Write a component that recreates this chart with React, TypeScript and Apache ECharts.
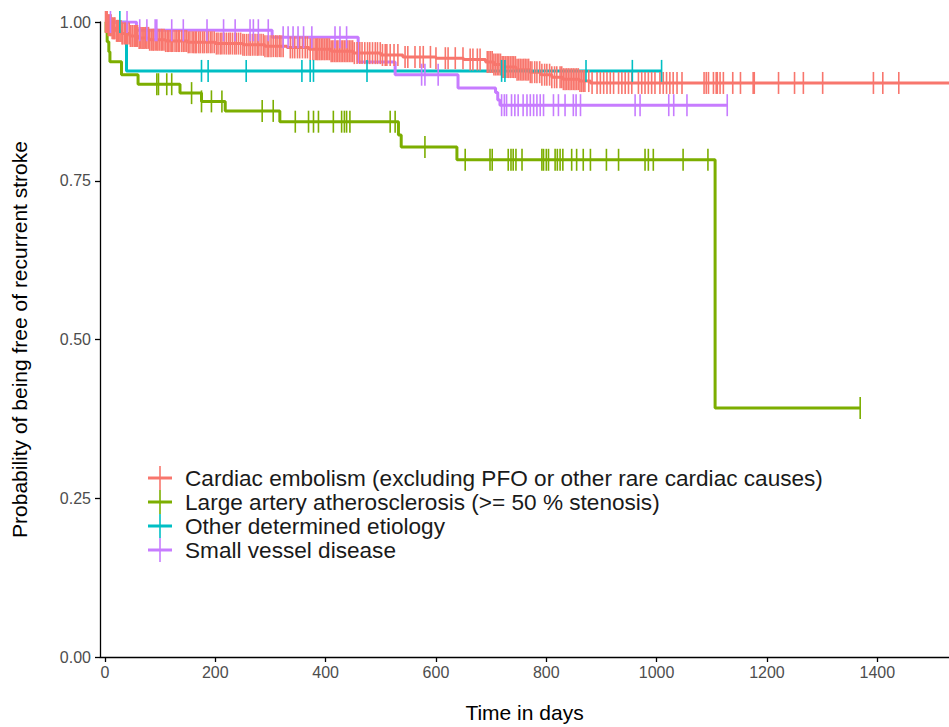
import React, { useEffect, useRef } from "react";
import * as echarts from "echarts";

const seriesNames = [
  "Cardiac embolism (excluding PFO or other rare cardiac causes)",
  "Large artery atherosclerosis (>= 50 % stenosis)",
  "Other determined etiology",
  "Small vessel disease",
];
const seriesColors = ["#F8766D", "#7CAE00", "#00BFC4", "#C77CFF"];

const xTicks = [0, 200, 400, 600, 800, 1000, 1200, 1400];
const yTicks = [0, 0.25, 0.5, 0.75, 1];

// Cardiac embolism
const redTimes = [0, 5, 12, 20, 30, 45, 60, 80, 110, 150, 200, 250, 290, 330, 370, 410, 450, 500, 540, 600, 650, 690, 705, 720, 745, 770, 790, 810, 830, 860, 880, 1530];
const redSurv = [1, 0.995, 0.99, 0.986, 0.982, 0.978, 0.975, 0.972, 0.97, 0.968, 0.966, 0.964, 0.962, 0.96, 0.957, 0.954, 0.951, 0.948, 0.945, 0.943, 0.941, 0.937, 0.933, 0.929, 0.925, 0.921, 0.917, 0.913, 0.91, 0.907, 0.904, 0.904];
const redCensor = [
  1, 3, 4, 6, 8, 10, 11, 13, 15, 17, 18, 21, 23, 24, 27, 29, 31, 32, 35, 37, 39, 41, 44, 46, 47, 50, 53, 55, 57, 59,
  62, 64, 67, 69, 71, 74, 76, 79, 81, 84, 87, 88, 91, 94, 96, 99, 102, 104, 107, 110, 113, 115, 118, 121, 123, 127,
  130, 133, 135, 139, 142, 145, 148, 151, 154, 158, 161, 164, 166, 170, 173, 177, 180, 184, 187, 191, 194, 198, 202,
  205, 209, 212, 216, 220, 224, 227, 231, 235, 238, 242, 246, 250, 253, 257, 261, 264, 268, 272, 276, 279, 283, 287,
  290, 294, 297, 301, 305, 309, 312, 316, 319, 323, 336, 340, 344, 349, 353, 358, 363, 367, 372, 377, 381, 384, 386,
  389, 392, 395, 398, 401, 404, 407, 410, 413, 416, 419, 422, 425, 428, 431, 434, 437, 440, 443, 446, 449, 452, 457,
  462, 466, 471, 476, 480, 485, 490, 494, 499, 503, 508, 511, 517, 524, 531, 544, 549, 562, 571, 577, 590, 600, 617,
  622, 635, 649, 662, 667, 675, 680, 693, 696, 699, 702, 705, 708, 711, 714, 717, 720, 723, 726, 729, 732, 735, 738,
  741, 744, 747, 750, 753, 756, 759, 762, 765, 768, 771, 774, 779, 783, 788, 792, 797, 801, 806, 810, 815, 819, 825,
  828, 831, 834, 837, 840, 843, 846, 849, 852, 855, 858, 861, 864, 867, 870, 877, 883, 892, 898, 904, 910, 916, 922,
  931, 937, 943, 949, 955, 967, 973, 979, 985, 991, 997, 1006, 1012, 1018, 1024, 1030, 1037, 1046, 1086, 1090, 1094,
  1103, 1108, 1110, 1115, 1121, 1138, 1152, 1175, 1177, 1221, 1250, 1266, 1301, 1393, 1410, 1439,
];

// Large artery atherosclerosis
const greenTimes = [0, 2, 4, 7, 9, 30, 60, 136, 175, 218, 317, 532, 537, 638, 1106, 1369];
const greenSurv = [1, 0.984, 0.969, 0.953, 0.9375, 0.917, 0.902, 0.888, 0.875, 0.86, 0.843, 0.822, 0.803, 0.783, 0.392, 0.392];
const greenCensor = [
  94, 97, 112, 121, 157, 175, 193, 212, 285, 305, 345, 369, 378, 387, 414, 429, 434, 438, 444, 517, 526, 580, 653,
  698, 702, 731, 736, 740, 745, 756, 792, 795, 800, 804, 816, 820, 825, 830, 846, 855, 867, 880, 909, 931, 979, 985,
  994, 1048, 1093, 1369,
];

// Other determined etiology
const cyanTimes = [0, 39, 1009];
const cyanSurv = [1, 0.923, 0.923];
const cyanCensor = [27, 175, 187, 256, 357, 372, 378, 475, 719, 725, 872, 956, 1009];

// Small vessel disease
const purpleTimes = [0, 57, 303, 459, 526, 640, 708, 712, 716, 1128];
const purpleSurv = [1, 0.987, 0.976, 0.937, 0.917, 0.896, 0.889, 0.877, 0.869, 0.869];
const purpleCensor = [
  10, 40, 63, 76, 91, 94, 121, 142, 185, 215, 236, 263, 269, 278, 296, 323, 332, 341, 350, 360, 375, 417, 426, 438,
  574, 580, 604, 719, 724, 728, 737, 743, 749, 758, 765, 771, 777, 783, 789, 795, 813, 822, 834, 849, 854, 862, 961,
  970, 1022, 1031, 1055, 1128,
];

const curves = [
  { times: redTimes, surv: redSurv, censor: redCensor },
  { times: greenTimes, surv: greenSurv, censor: greenCensor },
  { times: cyanTimes, surv: cyanSurv, censor: cyanCensor },
  { times: purpleTimes, surv: purpleSurv, censor: purpleCensor },
];

function survAt(times: number[], surv: number[], t: number) {
  let s = surv[0];
  for (let i = 0; i < times.length; i++) {
    if (times[i] <= t) s = surv[i];
  }
  return s;
}

const FONT = '"Liberation Sans", Arial, sans-serif';

export default function App() {
  const ref = useRef<HTMLDivElement>(null);
  useEffect(() => {
    if (!ref.current) return;
    const chart = echarts.init(ref.current, null, { renderer: "svg" });

    const lineSeries = curves.map((c, i) => ({
      type: "line",
      name: seriesNames[i],
      step: "end",
      showSymbol: false,
      symbol: "none",
      data: c.times.map((t, k) => [t, c.surv[k]]),
      lineStyle: { color: seriesColors[i], width: 3 },
      itemStyle: { color: seriesColors[i] },
      z: 2,
      silent: true,
    }));
    const censorSeries = curves.map((c, i) => ({
      type: "scatter",
      name: seriesNames[i] + " censor",
      symbol: "rect",
      symbolSize: [1.6, 22],
      data: c.censor.map((t) => [t, survAt(c.times, c.surv, t)]),
      itemStyle: { color: seriesColors[i], opacity: 1 },
      z: 3,
      silent: true,
    }));

    const legendRowsY = [478, 502, 526, 550];
    const graphic: any[] = [];
    seriesNames.forEach((n, i) => {
      const y = legendRowsY[i];
      graphic.push({
        type: "line",
        shape: { x1: 148, y1: y, x2: 172, y2: y },
        style: { stroke: seriesColors[i], lineWidth: 3 },
      });
      graphic.push({
        type: "line",
        shape: { x1: 160, y1: y - 12, x2: 160, y2: y + 12 },
        style: { stroke: seriesColors[i], lineWidth: 1.6 },
      });
      graphic.push({
        type: "text",
        x: 185,
        y: y,
        style: {
          text: n,
          fill: "#1a1a1a",
          fontSize: 22.6,
          fontFamily: FONT,
          align: "left",
          verticalAlign: "middle",
        },
      });
    });

    chart.setOption({
      animation: false,
      backgroundColor: "#ffffff",
      grid: { left: 100, right: 0, top: 22, bottom: 70, containLabel: false, outerBoundsMode: "none" },
      xAxis: {
        type: "value",
        min: -9,
        max: 1530,
        name: "Time in days",
        nameLocation: "middle",
        nameGap: 45,
        nameTextStyle: { fontSize: 21, color: "#000", fontFamily: FONT },
        axisLine: { show: true, onZero: false, lineStyle: { color: "#000", width: 1.3 } },
        axisTick: { show: true, length: 5, customValues: xTicks, lineStyle: { color: "#000", width: 1.3 } },
        axisLabel: {
          customValues: xTicks,
          fontSize: 16,
          color: "#4d4d4d",
          fontFamily: FONT,
          margin: 7,
          formatter: (v: number) => String(v),
        },
        splitLine: { show: false },
      },
      yAxis: {
        type: "value",
        min: 0,
        max: 1,
        interval: 0.25,
        name: "Probability of being free of recurrent stroke",
        nameLocation: "middle",
        nameGap: 70,
        nameRotate: 90,
        nameTextStyle: { fontSize: 21, color: "#000", fontFamily: FONT },
        axisLine: { show: true, onZero: false, lineStyle: { color: "#000", width: 1.3 } },
        axisTick: { show: true, length: 5, lineStyle: { color: "#000", width: 1.3 } },
        axisLabel: {
          fontSize: 16,
          color: "#4d4d4d",
          fontFamily: FONT,
          margin: 9,
          formatter: (v: number) => v.toFixed(2),
        },
        splitLine: { show: false },
      },
      series: [...lineSeries, ...censorSeries],
      graphic,
    });
    return () => chart.dispose();
  }, []);
  return (
    <div
      ref={ref}
      style={{ position: "absolute", left: 0, top: 0, width: 949, height: 727, background: "#fff" }}
    />
  );
}
